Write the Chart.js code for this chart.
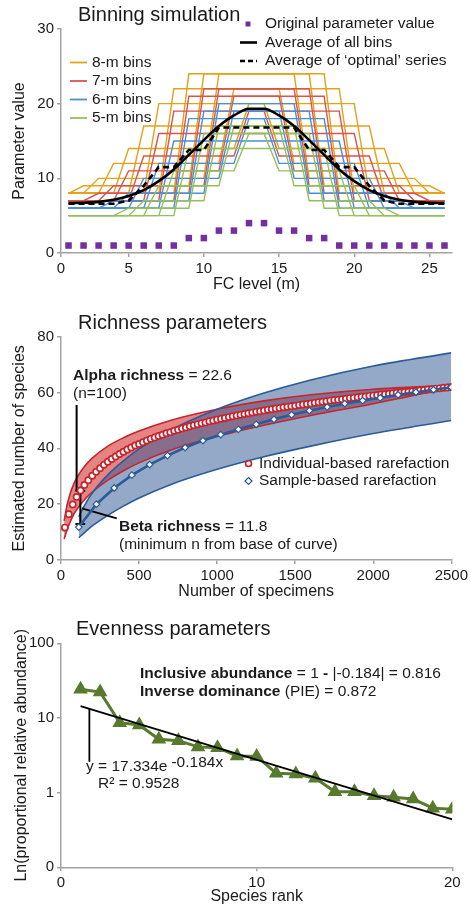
<!DOCTYPE html>
<html lang="en">
<head>
<meta charset="UTF-8">
<title>Binning, richness and evenness parameters</title>
<script src="https://cdn.jsdelivr.net/npm/chart.js"></script>
<style>
  body { margin: 0; background: #fff; }
  .panel { position: absolute; left: 0; width: 471px; }
  #p1 { top: 0; height: 300px; }
  #p2 { top: 300px; height: 305px; }
  #p3 { top: 605px; height: 303px; }
</style>
</head>
<body>
<div class="panel" id="p1"><canvas id="binChart"></canvas></div>
<div class="panel" id="p2"><canvas id="richChart"></canvas></div>
<div class="panel" id="p3"><canvas id="evenChart"></canvas></div>
<script>
// ---------- Binning simulation ----------
const fcLevel = [1,2,3,4,5,6,7,8,9,10,11,12,13,14,15,16,17,18,19,20,21,22,23,24,25,26];
const fcTicks = [0.5, 5, 10, 15, 20, 25];
const originalValue = [1,1,1,1,1,1,1,1,2,2,3,3,4,4,3,3,2,2,1,1,1,1,1,1,1,1];

const bins8m = [
  [8,8,8,8,8,8,8,8,24,24,24,24,24,24,24,24,10,10,10,10,10,10,10,10,8,8],
  [8,9,9,9,9,9,9,9,9,24,24,24,24,24,24,24,24,9,9,9,9,9,9,9,9,8],
  [8,8,10,10,10,10,10,10,10,10,24,24,24,24,24,24,24,24,8,8,8,8,8,8,8,8],
  [8,8,8,12,12,12,12,12,12,12,12,22,22,22,22,22,22,22,22,8,8,8,8,8,8,8],
  [8,8,8,8,14,14,14,14,14,14,14,14,20,20,20,20,20,20,20,20,8,8,8,8,8,8],
  [8,8,8,8,8,17,17,17,17,17,17,17,17,17,17,17,17,17,17,17,17,8,8,8,8,8],
  [8,8,8,8,8,8,20,20,20,20,20,20,20,20,14,14,14,14,14,14,14,14,8,8,8,8],
  [8,8,8,8,8,8,8,22,22,22,22,22,22,22,22,12,12,12,12,12,12,12,12,8,8,8]
];
const bins7m = [
  [7,7,7,7,7,7,7,19,19,19,19,19,19,19,13,13,13,13,13,13,13,7,7,7,7,7],
  [7,7,7,7,7,7,7,7,21,21,21,21,21,21,21,11,11,11,11,11,11,11,7,7,7,7],
  [7,7,8,8,8,8,8,8,8,22,22,22,22,22,22,22,9,9,9,9,9,9,9,7,7,7],
  [7,7,7,9,9,9,9,9,9,9,22,22,22,22,22,22,22,8,8,8,8,8,8,8,7,7],
  [7,7,7,7,11,11,11,11,11,11,11,21,21,21,21,21,21,21,7,7,7,7,7,7,7,7],
  [7,7,7,7,7,13,13,13,13,13,13,13,19,19,19,19,19,19,19,7,7,7,7,7,7,7],
  [7,7,7,7,7,7,16,16,16,16,16,16,16,16,16,16,16,16,16,16,7,7,7,7,7,7]
];
const bins6m = [
  [6,6,6,6,6,6,12,12,12,12,12,12,18,18,18,18,18,18,6,6,6,6,6,6,6,6],
  [6,6,6,6,6,6,6,15,15,15,15,15,15,15,15,15,15,15,15,6,6,6,6,6,6,6],
  [6,6,6,6,6,6,6,6,18,18,18,18,18,18,12,12,12,12,12,12,6,6,6,6,6,6],
  [6,6,6,7,7,7,7,7,7,19,19,19,19,19,19,10,10,10,10,10,10,6,6,6,6,6],
  [6,6,6,6,8,8,8,8,8,8,20,20,20,20,20,20,8,8,8,8,8,8,6,6,6,6],
  [6,6,6,6,6,10,10,10,10,10,10,19,19,19,19,19,19,7,7,7,7,7,7,6,6,6]
];
const bins5m = [
  [5,5,5,5,5,7,7,7,7,7,17,17,17,17,17,9,9,9,9,9,5,5,5,5,5,5],
  [5,5,5,5,5,5,9,9,9,9,9,17,17,17,17,17,7,7,7,7,7,5,5,5,5,5],
  [5,5,5,5,5,5,5,11,11,11,11,11,16,16,16,16,16,6,6,6,6,6,5,5,5,5],
  [5,5,5,5,5,5,5,5,14,14,14,14,14,14,14,14,14,14,5,5,5,5,5,5,5,5],
  [5,5,5,5,6,6,6,6,6,16,16,16,16,16,11,11,11,11,11,5,5,5,5,5,5,5]
];
const avgAllBins = [6.69,6.73,6.85,7.12,7.62,8.42,9.62,11.19,13.15,15.12,17.0,18.42,19.31,
                    19.31,18.42,17.0,15.12,13.15,11.19,9.62,8.42,7.62,7.12,6.85,6.73,6.69];
const avgOptimal = [6.6,6.6,6.6,6.6,7.0,9.0,11.5,11.5,13.8,13.8,16.8,16.8,16.8,
                    16.8,16.8,16.8,13.8,13.8,11.5,11.5,9.0,7.0,6.6,6.6,6.6,6.6];

// ---------- Richness parameters ----------
const indivN = [25,50,75,100,125,150,175,200,225,250,275,300,325,350,375,400,425,450,475,500,
  525,550,575,600,625,650,675,700,725,750,775,800,825,850,875,900,925,950,975,1000,
  1025,1050,1075,1100,1125,1150,1175,1200,1225,1250,1275,1300,1325,1350,1375,1400,1425,1450,1475,1500,
  1525,1550,1575,1600,1625,1650,1675,1700,1725,1750,1775,1800,1825,1850,1875,1900,1925,1950,1975,2000,
  2025,2050,2075,2100,2125,2150,2175,2200,2225,2250,2275,2300,2325,2350,2375,2400,2425,2450,2475,2500];
const indivS = [11.6,16.4,19.9,22.6,24.9,26.9,28.6,30.2,31.6,32.9,34.1,35.2,36.2,37.1,38.0,38.8,39.6,40.3,41.0,41.6,
  42.2,42.8,43.4,43.9,44.4,44.9,45.4,45.8,46.3,46.7,47.1,47.5,47.9,48.3,48.6,49.0,49.3,49.7,50.0,50.3,
  50.6,50.9,51.2,51.5,51.8,52.0,52.3,52.6,52.8,53.1,53.3,53.6,53.8,54.0,54.3,54.5,54.7,54.9,55.1,55.3,
  55.5,55.7,55.9,56.1,56.3,56.5,56.7,56.9,57.1,57.3,57.4,57.6,57.8,58.0,58.1,58.3,58.5,58.6,58.8,58.9,
  59.1,59.3,59.4,59.6,59.7,59.9,60.0,60.2,60.3,60.5,60.6,60.8,60.9,61.1,61.2,61.4,61.5,61.7,61.8,62.0];
const indivBandN = [20,40,60,80,100,150,200,300,400,500,700,1000,1300,1600,2000,2500];
const indivUpper = [14,20,24,27,29.3,33.5,36.5,40.8,43.8,46.2,50,54,57,59.2,61.2,62.5];
const indivLower = [7.5,11,13.8,16.2,18,21.6,24.3,28.6,32,34.8,39.3,44.3,48.3,51.8,56,61.8];
const sampleN = [114,227,341,454,568,682,795,909,1023,1136,1250,1364,1477,1591,1705,1818,1932,2045,2159,2273,2386,2500];
const sampleS = [11.8,20.0,25.8,30.4,34.2,37.4,40.3,42.8,44.9,46.8,48.6,50.4,52.0,53.5,54.8,56.0,57.1,58.1,59.2,60.1,61.0,61.9];
const sampleBandN = [114,150,200,300,400,500,700,1000,1300,1600,2000,2500];
const sampleUpper = [15.5,19.5,24,30.5,35.5,39.8,46.5,54,59.8,64.5,69.5,74.2];
const sampleLower = [8,9.8,12.2,16,19.3,22.2,27,32.5,37,40.8,45.3,50];
const richMarks = [
  [[100, 55.5], [100, 24.8]],
  [[124, 24.8], [124, 12.9]],
  [[92, 24.8], [155, 24.8]],
  [[92, 12.9], [155, 12.9]],
  [[134, 18.5], [357, 14.9]]
];

// ---------- Evenness parameters ----------
const speciesRank = [1,2,3,4,5,6,7,8,9,10,11,12,13,14,15,16,17,18,19,20];
const relAbundance = [24.2,22.2,8.65,8.05,5.2,4.97,4.1,4.0,3.1,3.05,1.82,1.78,1.56,1.03,1.03,0.91,0.87,0.82,0.62,0.60];
const fitRank = [1, 20];
const fitValue = [14.42, 0.437];
const evenMark = [[1.45, 13.3], [1.45, 2.6]];
const logTicks = [0.1, 1, 10, 100];

// ---------- shared look ----------
const FONT = "'Liberation Sans', Arial, sans-serif";
const INK = '#1a1a1a';
const AXIS = '#a3a3a3';
const PURPLE = '#7030A0';
Chart.defaults.font.family = FONT;
Chart.defaults.color = INK;

function toXY(xs, ys) {
  return ys.map((y, i) => ({ x: xs[i], y: y }));
}

function axis(extra, titleText, titlePad) {
  const base = {
    grid: { drawOnChartArea: false, drawTicks: true, tickLength: 4, color: AXIS, lineWidth: 1.5 },
    border: { color: AXIS, width: 1.5 },
    title: { display: true, text: titleText, color: INK, font: { size: 16 }, padding: titlePad }
  };
  const out = Object.assign(base, extra);
  out.ticks = Object.assign({ color: INK, font: { size: 15 }, padding: 3, callback: v => String(v) }, extra.ticks || {});
  return out;
}

function drawRuns(ctx, x, y, runs, size) {
  let cx = x;
  runs.forEach(([text, bold]) => {
    ctx.font = (bold ? 'bold ' : '') + size + 'px ' + FONT;
    ctx.fillText(text, cx, y);
    cx += ctx.measureText(text).width;
  });
  return cx;
}

function keyLine(ctx, x1, x2, y, color, width, dash) {
  ctx.save();
  ctx.strokeStyle = color;
  ctx.lineWidth = width;
  ctx.setLineDash(dash || []);
  ctx.beginPath();
  ctx.moveTo(x1, y);
  ctx.lineTo(x2, y);
  ctx.stroke();
  ctx.restore();
}

const baseOptions = {
  responsive: true,
  maintainAspectRatio: false,
  animation: false,
  events: [],
  plugins: { legend: { display: false }, tooltip: { enabled: false } }
};

// ---------- chart 1 ----------
const binColors = { b8: '#E3A21A', b7: '#D9534F', b6: '#4A8FD6', b5: '#93C05A' };
const binDatasets = [];
[[bins8m, binColors.b8, 6], [bins7m, binColors.b7, 5], [bins6m, binColors.b6, 4], [bins5m, binColors.b5, 3]]
  .forEach(([group, color, order]) => {
    group.forEach(series => binDatasets.push({
      data: toXY(fcLevel, series), showLine: true, borderColor: color, borderWidth: 1.4,
      pointRadius: 0, order: order
    }));
  });
binDatasets.push({
  data: toXY(fcLevel, avgAllBins), showLine: true, borderColor: '#000', borderWidth: 2.6,
  pointRadius: 0, cubicInterpolationMode: 'monotone', order: 1
});
binDatasets.push({
  data: toXY(fcLevel, avgOptimal), showLine: true, borderColor: '#000', borderWidth: 2.6,
  borderDash: [6, 4], pointRadius: 0, order: 2
});
binDatasets.push({
  data: toXY(fcLevel, originalValue), showLine: false, pointStyle: 'rect', pointRadius: 4.6,
  pointBackgroundColor: PURPLE, pointBorderWidth: 0, order: 0
});

const binNotes = {
  id: 'binNotes',
  afterDraw(chart) {
    const ctx = chart.ctx;
    ctx.save();
    ctx.fillStyle = INK;
    ctx.textBaseline = 'middle';
    ctx.font = '20px ' + FONT;
    ctx.fillText('Binning simulation', 78, 15);
    ctx.font = '15.5px ' + FONT;
    ctx.fillStyle = PURPLE;
    ctx.fillRect(245.5, 21.5, 5, 5);
    ctx.fillStyle = INK;
    ctx.fillText('Original parameter value', 265, 24);
    keyLine(ctx, 240, 257, 42.5, '#000', 2.6);
    ctx.fillText('Average of all bins', 265, 42.5);
    keyLine(ctx, 240, 257, 61, '#000', 2.6, [5, 3]);
    ctx.fillText('Average of \u2018optimal\u2019 series', 265, 61);
    [['8-m bins', binColors.b8, 62.5], ['7-m bins', binColors.b7, 81], ['6-m bins', binColors.b6, 99.5], ['5-m bins', binColors.b5, 118]]
      .forEach(([label, color, y]) => {
        keyLine(ctx, 70, 87, y, color, 1.8);
        ctx.fillText(label, 92, y);
      });
    ctx.restore();
  }
};

new Chart(document.getElementById('binChart'), {
  type: 'scatter',
  data: { datasets: binDatasets },
  options: Object.assign({}, baseOptions, {
    layout: { padding: { top: 29, right: 19, bottom: 0, left: 0 } },
    scales: {
      x: axis({
        min: 0.5, max: 26.5,
        afterFit: s => { s.height = 47; },
        afterBuildTicks: s => { s.ticks = fcTicks.map(v => ({ value: v })); },
        ticks: { callback: v => (v < 1 ? '0' : String(v)) }
      }, 'FC level (m)', { top: 0, bottom: 6 }),
      y: axis({
        min: 0, max: 30,
        afterFit: s => { s.width = 61; },
        ticks: { stepSize: 10 }
      }, 'Parameter value', { top: 10, bottom: 0 })
    }
  }),
  plugins: [binNotes]
});

// ---------- chart 2 ----------
const RED = '#C3262E';
const BLUE = '#2B5B98';
const richDatasets = [
  { data: toXY(sampleN, sampleS), showLine: true, borderColor: BLUE, borderWidth: 2.6,
    pointStyle: 'rectRot', pointRadius: 3.3, pointBackgroundColor: '#fff', pointBorderColor: BLUE,
    pointBorderWidth: 1.2, order: 0 },
  { data: toXY(indivN, indivS), showLine: false, pointStyle: 'circle', pointRadius: 3.1,
    pointBackgroundColor: '#fff', pointBorderColor: RED, pointBorderWidth: 1.7, order: 1 }
];
richMarks.forEach(seg => richDatasets.push({
  data: seg.map(p => ({ x: p[0], y: p[1] })), showLine: true, borderColor: '#000', borderWidth: 2,
  pointRadius: 0, order: 2
}));
richDatasets.push(
  { data: toXY(sampleBandN, sampleUpper), showLine: true, borderColor: BLUE, borderWidth: 1.6,
    pointRadius: 0, cubicInterpolationMode: 'monotone', fill: '+1',
    backgroundColor: 'rgba(50,90,150,0.52)', order: 3 },
  { data: toXY(sampleBandN, sampleLower), showLine: true, borderColor: BLUE, borderWidth: 1.6,
    pointRadius: 0, cubicInterpolationMode: 'monotone', order: 4 },
  { data: toXY(indivBandN, indivUpper), showLine: true, borderColor: RED, borderWidth: 1.6,
    pointRadius: 0, cubicInterpolationMode: 'monotone', fill: '+1',
    backgroundColor: 'rgba(214,50,50,0.6)', order: 5 },
  { data: toXY(indivBandN, indivLower), showLine: true, borderColor: RED, borderWidth: 1.6,
    pointRadius: 0, cubicInterpolationMode: 'monotone', order: 6 }
);

const richNotes = {
  id: 'richNotes',
  afterDraw(chart) {
    const ctx = chart.ctx;
    ctx.save();
    ctx.fillStyle = INK;
    ctx.textBaseline = 'middle';
    ctx.font = '20px ' + FONT;
    ctx.fillText('Richness parameters', 78, 23);
    drawRuns(ctx, 73, 76, [['Alpha richness', true], [' = 22.6', false]], 15.5);
    drawRuns(ctx, 73, 94, [['(n=100)', false]], 15.5);
    drawRuns(ctx, 119, 227, [['Beta richness', true], [' = 11.8', false]], 15.5);
    drawRuns(ctx, 119, 245, [['(minimum n from base of curve)', false]], 15.5);
    // key
    ctx.lineWidth = 1.7;
    ctx.strokeStyle = RED;
    ctx.beginPath();
    ctx.arc(248.5, 163.5, 3, 0, Math.PI * 2);
    ctx.stroke();
    ctx.strokeStyle = BLUE;
    ctx.lineWidth = 1.2;
    ctx.beginPath();
    ctx.moveTo(248.5, 177.5); ctx.lineTo(252, 181); ctx.lineTo(248.5, 184.5); ctx.lineTo(245, 181); ctx.closePath();
    ctx.stroke();
    drawRuns(ctx, 259, 163.5, [['Individual-based rarefaction', false]], 15.5);
    drawRuns(ctx, 259, 181, [['Sample-based rarefaction', false]], 15.5);
    ctx.restore();
  }
};

new Chart(document.getElementById('richChart'), {
  type: 'scatter',
  data: { datasets: richDatasets },
  options: Object.assign({}, baseOptions, {
    layout: { padding: { top: 36.7, right: 18.7, bottom: 0, left: 0 } },
    plugins: { legend: { display: false }, tooltip: { enabled: false }, filler: { drawTime: 'beforeDatasetsDraw' } },
    scales: {
      x: axis({
        min: 0, max: 2500,
        afterFit: s => { s.height = 45; },
        ticks: { stepSize: 500 }
      }, 'Number of specimens', { top: 0, bottom: 3.7 }),
      y: axis({
        min: 0, max: 80,
        afterFit: s => { s.width = 61; },
        ticks: { stepSize: 20 }
      }, 'Estimated number of species', { top: 10, bottom: 0 })
    }
  }),
  plugins: [richNotes]
});

// ---------- chart 3 ----------
const GREEN = '#587A2C';
const evenNotes = {
  id: 'evenNotes',
  afterDraw(chart) {
    const ctx = chart.ctx;
    ctx.save();
    ctx.fillStyle = INK;
    ctx.textBaseline = 'middle';
    ctx.font = '20px ' + FONT;
    ctx.fillText('Evenness parameters', 76, 24);
    drawRuns(ctx, 140, 69, [['Inclusive abundance', true], [' = 1 ', false], ['-', true], [' |-0.184| = 0.816', false]], 15.5);
    drawRuns(ctx, 140, 87, [['Inverse dominance', true], [' (PIE) = 0.872', false]], 15.5);
    const end = drawRuns(ctx, 86, 162, [['y = 17.334e', false]], 15.5);
    drawRuns(ctx, end + 4, 158, [['-0.184x', false]], 15.5);
    drawRuns(ctx, 98, 178.5, [['R\u00B2 = 0.9528', false]], 15.5);
    ctx.restore();
  }
};

new Chart(document.getElementById('evenChart'), {
  type: 'scatter',
  data: {
    datasets: [
      { data: toXY(fitRank, fitValue), showLine: true, borderColor: '#000', borderWidth: 1.8, pointRadius: 0, order: 0 },
      { data: evenMark.map(p => ({ x: p[0], y: p[1] })), showLine: true, borderColor: '#000', borderWidth: 1.8, pointRadius: 0, order: 1 },
      { data: toXY(speciesRank, relAbundance), showLine: true, borderColor: GREEN, borderWidth: 3,
        pointStyle: 'triangle', pointRadius: 5.5, pointBackgroundColor: GREEN, pointBorderColor: GREEN, order: 2 }
    ]
  },
  options: Object.assign({}, baseOptions, {
    layout: { padding: { top: 38.3, right: 18.7, bottom: 0, left: 0 } },
    scales: {
      x: axis({
        min: 0, max: 20,
        afterFit: s => { s.height = 40.7; },
        ticks: { stepSize: 10 }
      }, 'Species rank', { top: 0, bottom: 1.7 }),
      y: axis({
        type: 'logarithmic', min: 0.1, max: 100,
        afterFit: s => { s.width = 61; },
        afterBuildTicks: s => { s.ticks = logTicks.map(v => ({ value: v })); },
        ticks: { callback: v => (v < 1 ? '0' : String(v)) }
      }, 'Ln(proportional relative abundance)', { top: 12, bottom: 0 })
    }
  }),
  plugins: [evenNotes]
});
</script>
</body>
</html>
